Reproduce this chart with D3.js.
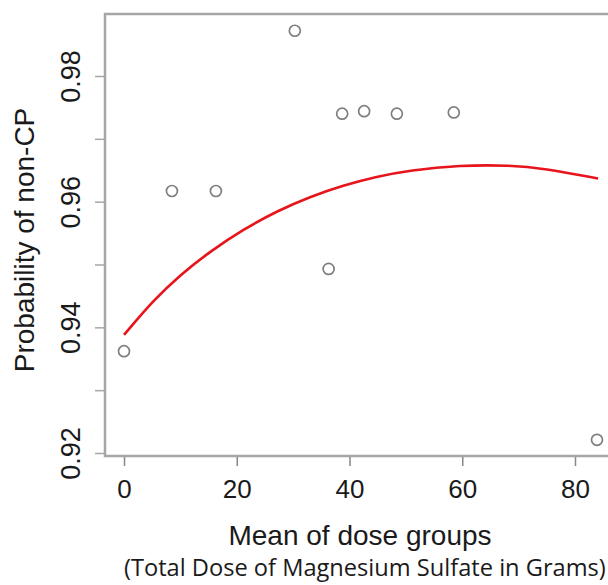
<!DOCTYPE html>
<html>
<head>
<meta charset="utf-8">
<script src="https://cdn.jsdelivr.net/npm/d3@7"></script>
<style>
  html, body { margin: 0; padding: 0; background: #fff; }
  svg { display: block; }
</style>
</head>
<body>
<svg id="chart" width="608" height="585"></svg>
<script>
// ---- data ----
const doseMeans = [0, 8.5, 16.3, 30.3, 36.3, 38.7, 42.6, 48.4, 58.5, 83.9];
const probNonCP = [0.9362, 0.9617, 0.9617, 0.9872, 0.9493, 0.9740, 0.9744, 0.9740, 0.9742, 0.9221];

const fitDose = [0, 5.2, 9.9, 15.3, 21.2, 27.1, 33.0, 38.9, 44.8, 50.7, 59.6, 68.5, 74.4, 84.1];
const fitProb = [0.9388, 0.9443, 0.9483, 0.9521, 0.9556, 0.9585, 0.9608, 0.9626, 0.9640, 0.9650, 0.9658, 0.9658, 0.9653, 0.9637];

const xTicks = [0, 20, 40, 60, 80];
const yTicks = [0.92, 0.93, 0.94, 0.95, 0.96, 0.97, 0.98];
const yTickLabels = ["0.92", "", "0.94", "", "0.96", "", "0.98"];

const xTitle = "Mean of dose groups";
const xSubTitle = "(Total Dose of Magnesium Sulfate in Grams)";
const yTitle = "Probability of non-CP";

// ---- layout ----
const svg = d3.select("#chart");
const frame = { left: 105, top: 14, bottom: 456, right: 612 };
const x = d3.scaleLinear().domain([0, 80]).range([124, 575]);
const y = d3.scaleLinear().domain([0.92, 0.98]).range([453, 76]);

const font = "'Liberation Sans', Arial, sans-serif";
const frameColor = "#a6a6a6";

// frame lines (top, left, bottom; right side cropped)
svg.append("path")
  .attr("d", `M${frame.right},${frame.top}H${frame.left}V${frame.bottom}H${frame.right}`)
  .attr("fill", "none")
  .attr("stroke", frameColor)
  .attr("stroke-width", 2.5);

// y axis ticks
const yAxis = d3.axisLeft(y)
  .tickValues(yTicks)
  .tickSize(10)
  .tickFormat((d, i) => yTickLabels[i]);
const gy = svg.append("g").attr("transform", `translate(${frame.left},0)`).call(yAxis);
gy.select(".domain").remove();
gy.selectAll(".tick line").attr("stroke", frameColor).attr("stroke-width", 1.5);
gy.selectAll(".tick text")
  .attr("font-family", font)
  .attr("font-size", 27)
  .attr("fill", "#1a1a1a")
  .attr("x", null).attr("dy", null)
  .attr("text-anchor", "middle")
  .attr("transform", "translate(-25,0) rotate(-90)");

// x axis ticks
const xAxis = d3.axisBottom(x)
  .tickValues(xTicks)
  .tickSize(9)
  .tickPadding(14)
  .tickFormat(d3.format("d"));
const gx = svg.append("g").attr("transform", `translate(0,${frame.bottom + 1})`).call(xAxis);
gx.select(".domain").remove();
gx.selectAll(".tick line").attr("stroke", "#888").attr("stroke-width", 1.5);
gx.selectAll(".tick text")
  .attr("font-family", font)
  .attr("font-size", 26)
  .attr("fill", "#1a1a1a");

// fitted curve
const line = d3.line()
  .x((d, i) => x(fitDose[i]))
  .y((d, i) => y(fitProb[i]))
  .curve(d3.curveBasis);
svg.append("path")
  .datum(fitDose)
  .attr("d", line)
  .attr("fill", "none")
  .attr("stroke", "#e8141c")
  .attr("stroke-width", 2.6);

// observed points
svg.append("g").selectAll("circle")
  .data(doseMeans)
  .join("circle")
  .attr("cx", (d) => x(d))
  .attr("cy", (d, i) => y(probNonCP[i]))
  .attr("r", 5.5)
  .attr("fill", "none")
  .attr("stroke", "#7f7f7f")
  .attr("stroke-width", 1.7);

// axis titles
svg.append("text")
  .attr("x", 360).attr("y", 545)
  .attr("text-anchor", "middle")
  .attr("font-family", font)
  .attr("font-size", 28)
  .attr("fill", "#1a1a1a")
  .text(xTitle);

const sub = svg.append("text")
  .attr("x", 124).attr("y", 576)
  .attr("text-anchor", "start")
  .attr("font-family", "'Open Sans', 'Noto Sans', sans-serif")
  .attr("font-size", 22)
  .attr("fill", "#1a1a1a")
  .text(xSubTitle);
// fit the subtitle to the available width
const targetW = 482;
const w0 = sub.node().getComputedTextLength();
if (w0 > 0) sub.attr("font-size", 22 * targetW / w0);

svg.append("text")
  .attr("transform", "translate(34,240) rotate(-90)")
  .attr("text-anchor", "middle")
  .attr("font-family", font)
  .attr("font-size", 28)
  .attr("fill", "#1a1a1a")
  .text(yTitle);
</script>
</body>
</html>
